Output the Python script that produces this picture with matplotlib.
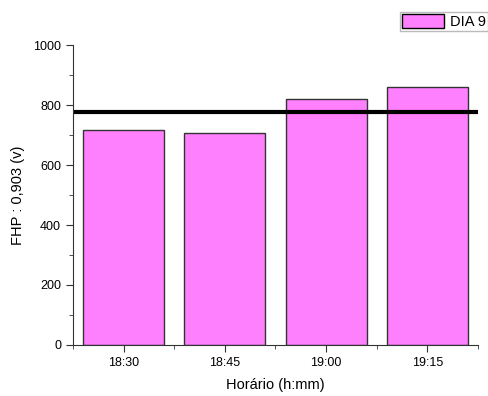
import matplotlib.pyplot as plt
from matplotlib.ticker import MultipleLocator
import numpy as np

plt.rcParams['font.family'] = ['Liberation Sans', 'DejaVu Sans']

horarios = ['18:30', '18:45', '19:00', '19:15']
fhp = [716, 707, 820, 860]
limite = 777

fig = plt.figure(figsize=(4.89, 3.96), dpi=100)
ax = fig.add_axes([0.149, 0.129, 0.8285, 0.757])

x = np.arange(len(horarios))
ax.bar(x, fhp, width=0.8, color='#FF80FF', edgecolor='#333333', linewidth=1, label='DIA 9')
ax.axhline(limite, color='black', lw=3)

ax.set_xlim(-0.5, 3.5)
ax.set_ylim(0, 1000)
ax.set_xticks(x)
ax.set_xticklabels(horarios)
ax.xaxis.set_minor_locator(MultipleLocator(1, offset=0.5))
ax.yaxis.set_major_locator(MultipleLocator(200))
ax.yaxis.set_minor_locator(MultipleLocator(100))
ax.tick_params(which='both', direction='out', labelsize=9, color='#333333')
ax.tick_params(which='major', length=5)
ax.tick_params(which='minor', length=3)
for s in ['top', 'right']:
    ax.spines[s].set_visible(False)
for s in ['left', 'bottom']:
    ax.spines[s].set_color('#333333')

ax.set_xlabel('Horário (h:mm)', fontsize=10.5, labelpad=7)
ax.set_ylabel('FHP : 0,903 (v)', fontsize=10.5, labelpad=6)

leg = fig.legend(loc='upper right', bbox_to_anchor=(0.998, 0.97), fontsize=10.5,
                 frameon=True, fancybox=False, edgecolor='#aaaaaa',
                 handlelength=2.9, handleheight=1.1, borderpad=0.15, handletextpad=0.4,
                 borderaxespad=0.0)
leg.get_patches()[0].set_edgecolor('black')

fig.savefig('out.png', dpi=100)
